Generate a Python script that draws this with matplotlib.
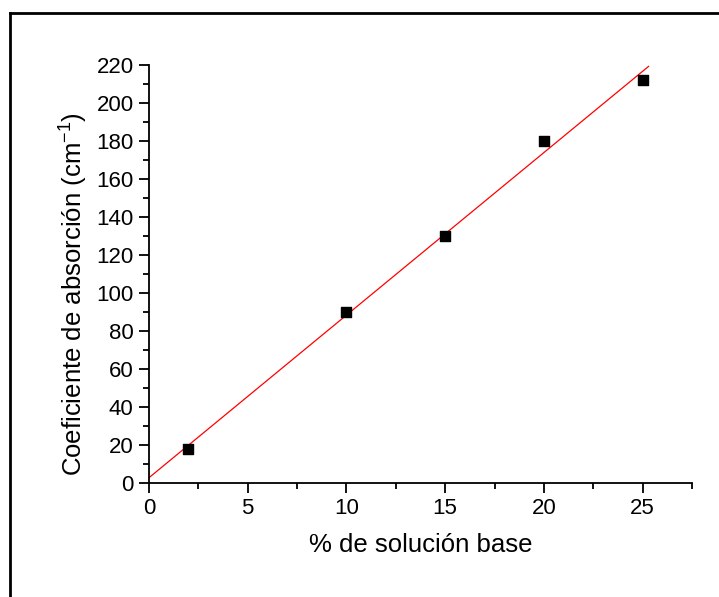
import numpy as np
import matplotlib
matplotlib.use("Agg")
import matplotlib.pyplot as plt
from matplotlib.lines import Line2D
from matplotlib.ticker import MultipleLocator

plt.rcParams['font.family'] = ['Liberation Sans', 'DejaVu Sans']
plt.rcParams['mathtext.fontset'] = 'custom'
plt.rcParams['mathtext.rm'] = 'Liberation Sans'
plt.rcParams['mathtext.default'] = 'regular'

x_vals = [2, 10, 15, 20, 25]
y_vals = [18, 90, 130, 180, 212]
x_ticks = [0, 5, 10, 15, 20, 25]
y_ticks = list(range(0, 221, 20))

fig = plt.figure(figsize=(7.19, 5.97), dpi=100)
ax = fig.add_axes([149/719, 1-483/597, (692-149)/719, (483-65)/597])

slope, intercept = np.polyfit(x_vals, y_vals, 1)
xf = np.array([0, 25.3])
ax.plot(xf, slope*xf + intercept, color='red', lw=0.9, clip_on=False, zorder=2)
ax.scatter(x_vals, y_vals, marker='s', s=60, color='black', zorder=3, clip_on=False)

ax.set_xlim(0, 27.5)
ax.set_ylim(0, 220)
ax.set_xticks(x_ticks)
ax.set_yticks(y_ticks)
ax.xaxis.set_minor_locator(MultipleLocator(2.5))
ax.yaxis.set_minor_locator(MultipleLocator(10))
for s in ['top', 'right']:
    ax.spines[s].set_visible(False)
for s in ['left', 'bottom']:
    ax.spines[s].set_linewidth(1.3)
ax.tick_params(which='major', direction='out', length=7, width=1.3, labelsize=16, pad=4)
ax.tick_params(which='minor', direction='out', length=4, width=1.3)
ax.set_xlabel('% de solución base', fontsize=18.5, labelpad=10)
ax.set_ylabel('Coeficiente de absorción (cm$^{-1}$)', fontsize=18.5)
ax.yaxis.set_label_coords(-0.108, 0.452)

fig.add_artist(Line2D([9.5/719, 9.5/719], [0, 1-13/597], color='black', lw=2, transform=fig.transFigure))
fig.add_artist(Line2D([9.5/719, 1], [1-13/597, 1-13/597], color='black', lw=2, transform=fig.transFigure))

fig.savefig('out.png', dpi=100)
